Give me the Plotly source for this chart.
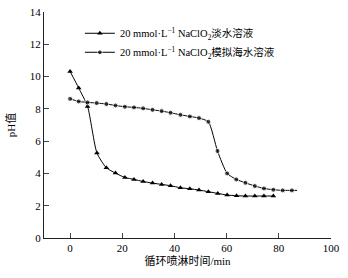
import plotly.graph_objects as go

# time (min)
t_fresh = [0, 3.3, 6.7, 10.3, 13.9, 17.4, 21.0, 24.5, 28.0, 31.6, 35.1, 38.5, 42.3,
           45.9, 49.4, 53.0, 56.6, 60.2, 63.8, 67.2, 70.8, 74.3, 77.9]
ph_fresh = [10.32, 9.29, 8.15, 5.26, 4.35, 4.02, 3.75, 3.63, 3.50, 3.40, 3.32, 3.24, 3.11,
            3.05, 2.97, 2.87, 2.76, 2.66, 2.62, 2.60, 2.60, 2.60, 2.60]

t_sea = [0, 3.3, 6.7, 10.2, 13.9, 17.4, 21.0, 24.5, 28.0, 31.6, 35.1, 38.5, 42.3,
         45.9, 49.4, 53.0, 56.5, 60.2, 63.7, 67.2, 70.8, 74.3, 77.9, 81.5, 85.0, 87.0]
ph_sea = [8.62, 8.46, 8.40, 8.36, 8.30, 8.21, 8.13, 8.09, 8.03, 7.94, 7.86, 7.76, 7.63,
          7.53, 7.43, 7.20, 5.39, 4.00, 3.63, 3.42, 3.22, 3.07, 2.99, 2.95, 2.95, 2.95]

x_ticks = [0, 20, 40, 60, 80, 100]
y_ticks = [0, 2, 4, 6, 8, 10, 12, 14]

name_fresh = "20 mmol·L<sup>−1</sup> NaClO<sub>2</sub>淡水溶液"
name_sea = "20 mmol·L<sup>−1</sup> NaClO<sub>2</sub>模拟海水溶液"

FONT = "Liberation Serif, Times New Roman, Noto Sans CJK SC, serif"

fig = go.Figure()
fig.add_trace(go.Scatter(
    x=t_fresh, y=ph_fresh, name=name_fresh, mode="lines+markers",
    line=dict(color="black", width=1, shape="spline", smoothing=0.6),
    marker=dict(symbol="triangle-up", size=5, color="black"),
))
sea_sizes = [5] * (len(t_sea) - 1) + [0]
fig.add_trace(go.Scatter(
    x=t_sea, y=ph_sea, name=name_sea, mode="lines+markers",
    line=dict(color="black", width=1, shape="spline", smoothing=0.6),
    marker=dict(symbol="circle", size=sea_sizes, color="black"),
))

fig.update_layout(
    width=348, height=278,
    margin=dict(l=44, r=17, t=12, b=40),
    paper_bgcolor="white", plot_bgcolor="white",
    font=dict(family=FONT, size=11, color="black"),
    showlegend=True,
    legend=dict(x=0.125, y=0.97, xanchor="left", yanchor="top",
                bgcolor="rgba(0,0,0,0)", font=dict(size=10.5, family=FONT),
                tracegroupgap=0, itemwidth=30),
    xaxis=dict(range=[-10, 100], tickvals=x_ticks, ticks="inside", ticklen=5,
               showline=True, linecolor="#222", linewidth=1, showgrid=False,
               zeroline=False, mirror=False, automargin=False,
               title=dict(text="循环喷淋时间/min", standoff=4, font=dict(size=11))),
    yaxis=dict(range=[0, 14], tickvals=y_ticks, ticks="inside", ticklen=5,
               showline=True, linecolor="#222", linewidth=1, showgrid=False,
               zeroline=False, mirror=False, automargin=False,
               title=dict(text="pH值", standoff=11, font=dict(size=11))),
)

fig.write_html("out.html", config={"displayModeBar": False},
               post_script="document.body.style.margin='0';document.body.style.overflow='hidden';")
